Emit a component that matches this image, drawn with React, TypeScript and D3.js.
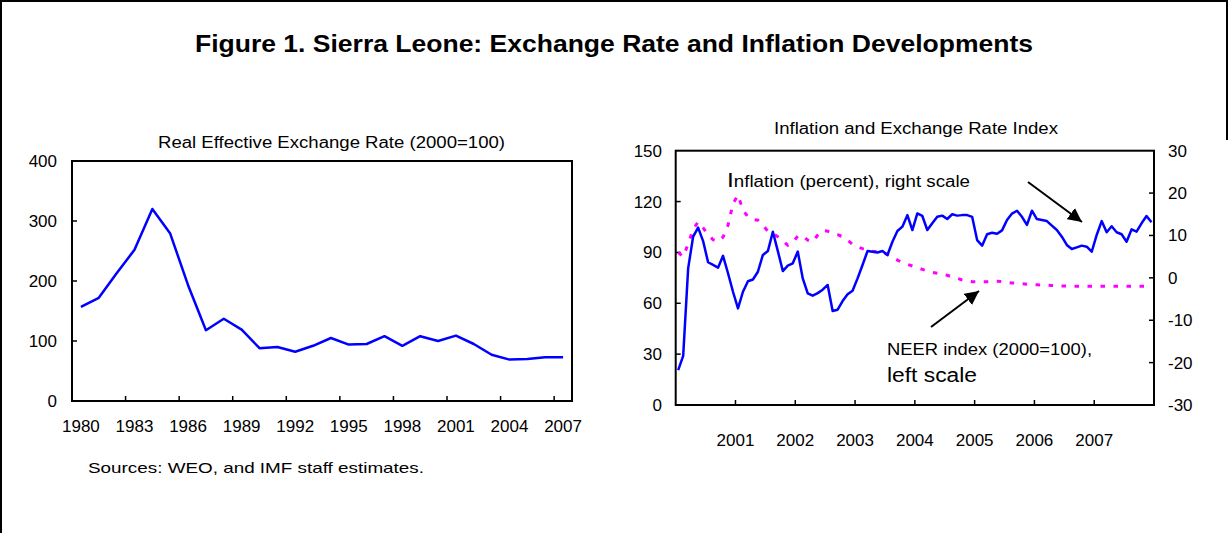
import React from "react";
import * as d3 from "d3";

// ---------- Data ----------
const reerYears: string[] = [
  "1980","1981","1982","1983","1984","1985","1986","1987","1988","1989",
  "1990","1991","1992","1993","1994","1995","1996","1997","1998","1999",
  "2000","2001","2002","2003","2004","2005","2006","2007",
];
const reerValues: number[] = [
  157, 172, 213, 252, 320, 279, 193, 118, 137, 119,
  88, 90, 82, 92, 105, 94, 95, 108, 92, 108,
  100, 109, 95, 77, 69, 70, 73, 73,
];
const reerTickLabels: string[] = ["1980","1983","1986","1989","1992","1995","1998","2001","2004","2007"];
const reerYTicks: number[] = [0, 100, 200, 300, 400];

// monthly, Jan 2000 - Dec 2007
const neerValues: number[] = [
  20.6, 29, 80.6, 99.3, 104.6, 96.7, 84.2, 82.6, 81, 88, 77.7, 66.8,
  57, 66.8, 73, 74, 78.6, 88.5, 90.8, 102.2, 90.8, 79, 82.2, 83.6,
  90.5, 74.7, 65.9, 64.5, 66, 68, 70.8, 55.4, 56.2, 61.3, 65.3, 67.4,
  74.7, 82.6, 90.8, 90.4, 90, 90.8, 88.5, 96.3, 102.6, 105.2, 112, 103.2,
  113, 111.5, 103.2, 107.2, 111, 111.7, 109.7, 112.5, 111.7, 112, 112, 111,
  97.3, 94, 100.7, 101.6, 101, 103, 109.1, 112.9, 114.6, 111, 106.2, 114.6,
  109.7, 109.1, 108.5, 105.8, 103.2, 99.3, 94.4, 92, 93, 94, 93.4, 90.4,
  100.3, 108.5, 101.9, 105.4, 101.9, 100.7, 96.3, 103.6, 102.2, 107.2, 111.5, 107.8,
];
const inflationValues: number[] = [
  6.0, 5.0, 8.0, 11.5, 13.2, 11.8, 10.2, 9.0, 8.6, 9.6, 12.4, 17.5,
  19.5, 16.0, 14.4, 13.8, 13.6, 12.4, 11.0, 10.5, 9.7, 8.7, 7.7, 8.3,
  9.9, 9.9, 8.9, 8.5, 10.1, 11.2, 11.0, 10.5, 10.2, 9.7, 8.9, 7.9,
  7.3, 6.9, 6.6, 6.3, 6.1, 6.0, 5.5, 4.8, 4.2, 3.6, 3.2, 2.8,
  2.4, 2.0, 1.6, 1.3, 1.1, 0.8, 0.6, 0.2, -0.1, -0.5, -0.7, -0.9,
  -0.9, -0.9, -0.9, -0.8, -0.8, -0.9, -1.1, -1.2, -1.3, -1.4, -1.5, -1.6,
  -1.6, -1.7, -1.7, -1.8, -1.8, -1.9, -1.9, -2.0, -2.0, -2.0, -2.0, -2.0,
  -2.0, -2.0, -2.0, -2.0, -2.0, -2.0, -2.0, -2.0, -2.0, -2.0, -2.0, -2.0,
];
const yearLabels: string[] = ["2001","2002","2003","2004","2005","2006","2007"];
const leftRightTicks: number[] = [0, 30, 60, 90, 120, 150];
const rightAxisTicks: number[] = [-30, -20, -10, 0, 10, 20, 30];

const FONT = "Arial, 'Liberation Sans', sans-serif";
const BLUE = "#0000FF";
const MAGENTA = "#FF00FF";
const TICK_FS = 17;

export default function App() {
  // ----- left chart -----
  const L = { x0: 72, x1: 572, y0: 161, y1: 401 };
  const xL = d3.scaleBand<string>().domain(reerYears).range([L.x0, L.x1]).padding(0);
  const yL = d3.scaleLinear().domain([0, 400]).range([L.y1, L.y0]);
  const bw = xL.bandwidth();
  const lineL = d3
    .line<number>()
    .x((_, i) => (xL(reerYears[i]) as number) + bw / 2)
    .y((d) => yL(d));
  const boundaryTicks = d3.range(3, reerYears.length, 3).map((k) => L.x0 + k * bw);

  // ----- right chart -----
  const R = { x0: 675.7, x1: 1154, y0: 150.7, y1: 405 };
  const xR = d3.scaleLinear().domain([0, neerValues.length]).range([R.x0, R.x1]);
  const yRl = d3.scaleLinear().domain([0, 150]).range([R.y1, R.y0]);
  const yRr = d3.scaleLinear().domain([-30, 30]).range([R.y1, R.y0]);
  const lineNeer = d3
    .line<number>()
    .x((_, i) => xR(i + 0.5))
    .y((d) => yRl(d));
  const lineInf = d3
    .line<number>()
    .x((_, i) => xR(i + 0.5))
    .y((d) => yRr(d));

  return (
    <svg
      width={1228}
      height={533}
      style={{ position: "absolute", left: 0, top: 0, background: "#fff" }}
      fontFamily={FONT}
    >
      <defs>
        <marker id="arrowHead" viewBox="0 0 10 10" refX="10" refY="5" markerWidth="7" markerHeight="7" orient="auto" markerUnits="strokeWidth">
          <path d="M0,0 L10,5 L0,10 z" fill="#000" />
        </marker>
      </defs>
      {/* outer frame */}
      <line x1={1} y1={0} x2={1} y2={533} stroke="#000" strokeWidth={2} />
      <line x1={0} y1={1} x2={1228} y2={1} stroke="#000" strokeWidth={2} />
      <line x1={1227} y1={0} x2={1227} y2={140} stroke="#000" strokeWidth={2} />

      <text x={195} y={52} fontSize={24} fontWeight="bold" textLength={838} lengthAdjust="spacingAndGlyphs">
        Figure 1. Sierra Leone: Exchange Rate and Inflation Developments
      </text>

      {/* ===== Left chart ===== */}
      <text x={158} y={148} fontSize={16} textLength={347} lengthAdjust="spacingAndGlyphs">
        Real Effective Exchange Rate (2000=100)
      </text>
      <rect x={L.x0} y={L.y0} width={L.x1 - L.x0} height={L.y1 - L.y0} fill="none" stroke="#000" strokeWidth={2} />
      {reerYTicks.map((t) => (
        <g key={"ly" + t}>
          {t > 0 && t < 400 && <line x1={L.x0} x2={L.x0 + 5} y1={yL(t)} y2={yL(t)} stroke="#000" strokeWidth={1.5} />}
          <text x={57} y={yL(t)} dy="0.35em" textAnchor="end" fontSize={TICK_FS}>
            {t}
          </text>
        </g>
      ))}
      {boundaryTicks.map((x, i) => (
        <line key={"lx" + i} x1={x} x2={x} y1={L.y1} y2={L.y1 - 5} stroke="#000" strokeWidth={1.5} />
      ))}
      {reerTickLabels.map((lab) => (
        <text key={"lxl" + lab} x={(xL(lab) as number) + bw / 2} y={432} textAnchor="middle" fontSize={TICK_FS}>
          {lab}
        </text>
      ))}
      <path d={lineL(reerValues) || ""} fill="none" stroke={BLUE} strokeWidth={2.5} strokeLinejoin="round" />
      <text x={88} y={473} fontSize={15} textLength={336} lengthAdjust="spacingAndGlyphs">
        Sources: WEO, and IMF staff estimates.
      </text>

      {/* ===== Right chart ===== */}
      <text x={774} y={134} fontSize={16} textLength={284} lengthAdjust="spacingAndGlyphs">
        Inflation and Exchange Rate Index
      </text>
      <rect x={R.x0} y={R.y0} width={R.x1 - R.x0} height={R.y1 - R.y0} fill="none" stroke="#000" strokeWidth={2} />
      {leftRightTicks.map((t) => (
        <g key={"rly" + t}>
          {t > 0 && t < 150 && <line x1={R.x0} x2={R.x0 + 5} y1={yRl(t)} y2={yRl(t)} stroke="#000" strokeWidth={1.5} />}
          <text x={662} y={yRl(t)} dy="0.35em" textAnchor="end" fontSize={TICK_FS}>
            {t}
          </text>
        </g>
      ))}
      {rightAxisTicks.map((t) => (
        <g key={"rry" + t}>
          {t > -30 && t < 30 && <line x1={R.x1} x2={R.x1 - 5} y1={yRr(t)} y2={yRr(t)} stroke="#000" strokeWidth={1.5} />}
          <text x={1168} y={yRr(t)} dy="0.35em" textAnchor="start" fontSize={TICK_FS}>
            {t}
          </text>
        </g>
      ))}
      {yearLabels.map((lab, i) => (
        <g key={"rx" + lab}>
          <line x1={xR((i + 1) * 12)} x2={xR((i + 1) * 12)} y1={R.y1} y2={R.y1 - 5} stroke="#000" strokeWidth={1.5} />
          <text x={xR((i + 1) * 12)} y={446} textAnchor="middle" fontSize={TICK_FS}>
            {lab}
          </text>
        </g>
      ))}
      <path d={lineInf(inflationValues) || ""} fill="none" stroke={MAGENTA} strokeWidth={3} strokeDasharray="4.5,8.5" />
      <path d={lineNeer(neerValues) || ""} fill="none" stroke={BLUE} strokeWidth={2.5} strokeLinejoin="round" />

      {/* annotations */}
      <text x={727} y={187} fontSize={16} textLength={243} lengthAdjust="spacingAndGlyphs">
        <tspan fontSize={21}>I</tspan>nflation (percent), right scale
      </text>
      <text x={887} y={355} fontSize={16} textLength={205} lengthAdjust="spacingAndGlyphs">
        NEER index (2000=100),
      </text>
      <text x={887} y={382} fontSize={20} textLength={90} lengthAdjust="spacingAndGlyphs">
        left scale
      </text>
      <line x1={1028} y1={182} x2={1082} y2={222} stroke="#000" strokeWidth={2} markerEnd="url(#arrowHead)" />
      <line x1={931} y1={327} x2={979} y2={291} stroke="#000" strokeWidth={2} markerEnd="url(#arrowHead)" />
    </svg>
  );
}
